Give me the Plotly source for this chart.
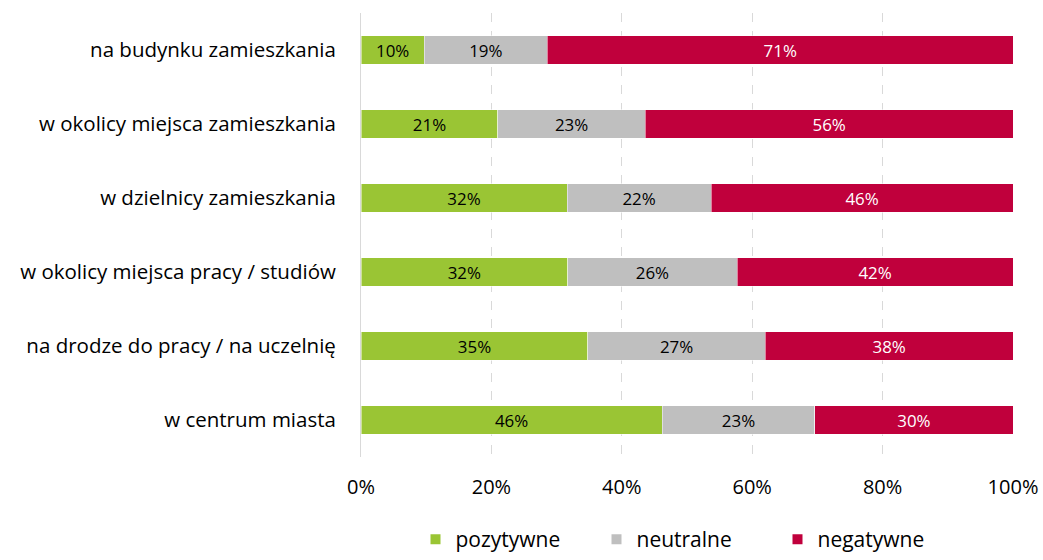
import plotly.graph_objects as go

categories = [
    "na budynku zamieszkania",
    "w okolicy miejsca zamieszkania",
    "w dzielnicy zamieszkania",
    "w okolicy miejsca pracy / studiów",
    "na drodze do pracy / na uczelnię",
    "w centrum miasta",
]
pozytywne = [9.7, 21.0, 31.6, 31.7, 34.8, 46.2]
neutralne = [18.9, 22.6, 22.1, 26.0, 27.2, 23.4]
negatywne = [71.4, 56.4, 46.3, 42.3, 38.0, 30.4]
series_names = ["pozytywne", "neutralne", "negatywne"]
colors = ["#9AC534", "#BFBFBF", "#C0003C"]
text_colors = ["#000000", "#000000", "#FFFFFF"]
x_ticks = [0, 20, 40, 60, 80, 100]
x_tick_labels = ["0%", "20%", "40%", "60%", "80%", "100%"]

FONT = "'Open Sans', 'Noto Sans', sans-serif"

fig = go.Figure()
for name, vals, col, tcol in zip(series_names, [pozytywne, neutralne, negatywne], colors, text_colors):
    fig.add_trace(go.Bar(
        y=categories, x=vals, name=name, orientation="h",
        marker=dict(color=col, line=dict(color="white", width=0.5)),
        text=[f"{round(v):.0f}%" for v in vals],
        textposition="inside", insidetextanchor="middle",
        textfont=dict(color=tcol, size=18.5, family=FONT),
        hoverinfo="skip",
    ))

fig.update_layout(
    barmode="stack",
    width=1043, height=560,
    margin=dict(l=361, r=30, t=13, b=103, autoexpand=False),
    paper_bgcolor="white", plot_bgcolor="white",
    bargap=0.61,
    font=dict(family=FONT, size=20, color="#000000"),
    uniformtext=dict(mode=False),
    legend=dict(
        orientation="h", x=0.5, xanchor="center",
        yref="container", y=0.0, yanchor="bottom",
        font=dict(size=21, family=FONT), traceorder="normal",
        entrywidth=136, itemsizing="constant",
    ),
    xaxis=dict(
        range=[0, 100], tickvals=x_ticks, ticktext=x_tick_labels,
        showgrid=True, gridcolor="#D9D9D9", griddash="dash", gridwidth=1,
        zeroline=False, showline=False, ticks="", ticklen=0,
        ticklabelstandoff=16,
        tickfont=dict(size=20, family=FONT), automargin=False,
    ),
    yaxis=dict(
        categoryorder="array", categoryarray=categories, autorange="reversed",
        showgrid=False, showline=True, linecolor="#D9D9D9", linewidth=1,
        ticks="", ticklabelstandoff=20, automargin=False,
        tickfont=dict(size=20.5, family=FONT),
    ),
)

fig.write_html(
    "out.html",
    config={"displayModeBar": False},
    post_script="document.body.style.margin='0';document.body.style.overflow='hidden';",
)
